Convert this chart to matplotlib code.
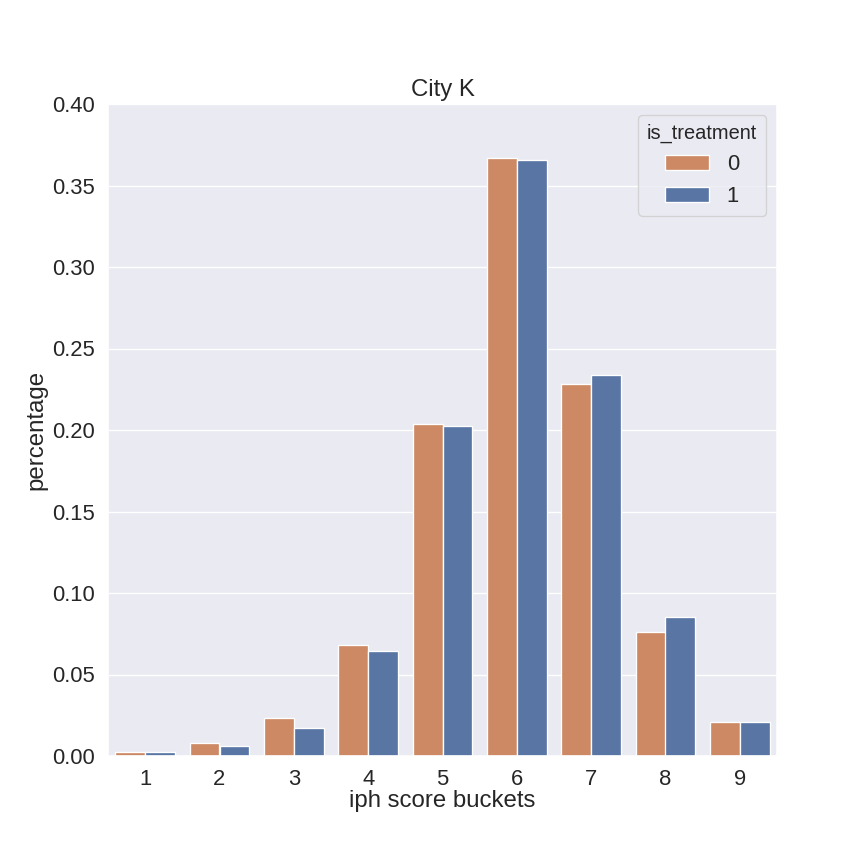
import matplotlib
matplotlib.use("Agg")
import matplotlib.pyplot as plt
import seaborn as sns
import pandas as pd

# ---------- DATA ----------
buckets = [1, 2, 3, 4, 5, 6, 7, 8, 9]
pct_control = [0.0027, 0.0082, 0.0235, 0.0680, 0.2035, 0.3671, 0.2280, 0.0759, 0.0211]
pct_treatment = [0.0027, 0.0063, 0.0174, 0.0644, 0.2023, 0.3658, 0.2336, 0.0851, 0.0207]
groups = ["0", "1"]
# --------------------------

df = pd.DataFrame({
    "iph score buckets": buckets * 2,
    "percentage": pct_control + pct_treatment,
    "is_treatment": [groups[0]] * len(buckets) + [groups[1]] * len(buckets),
})

sns.set_theme(style="darkgrid", font_scale=1.5)
plt.rcParams['font.family'] = ['Liberation Sans', 'DejaVu Sans']

deep = sns.color_palette("deep")
fig = plt.figure(figsize=(9, 9), dpi=96)
ax = fig.add_axes([108 / 864, 108 / 864, 669 / 864, 652 / 864])
sns.barplot(data=df, x="iph score buckets", y="percentage", hue="is_treatment",
            hue_order=groups, palette=[deep[1], deep[0]], ax=ax)
ax.set_ylim(0, 0.40)
ax.set_yticks([0, 0.05, 0.10, 0.15, 0.20, 0.25, 0.30, 0.35, 0.40])
ax.set_yticklabels([f"{v:.2f}" for v in ax.get_yticks()])
ax.set_title("City K")
ax.set_xlabel("iph score buckets", labelpad=0)
ax.legend(title="is_treatment", loc="upper right", title_fontsize=15)

fig.savefig("out.png", dpi=96)
